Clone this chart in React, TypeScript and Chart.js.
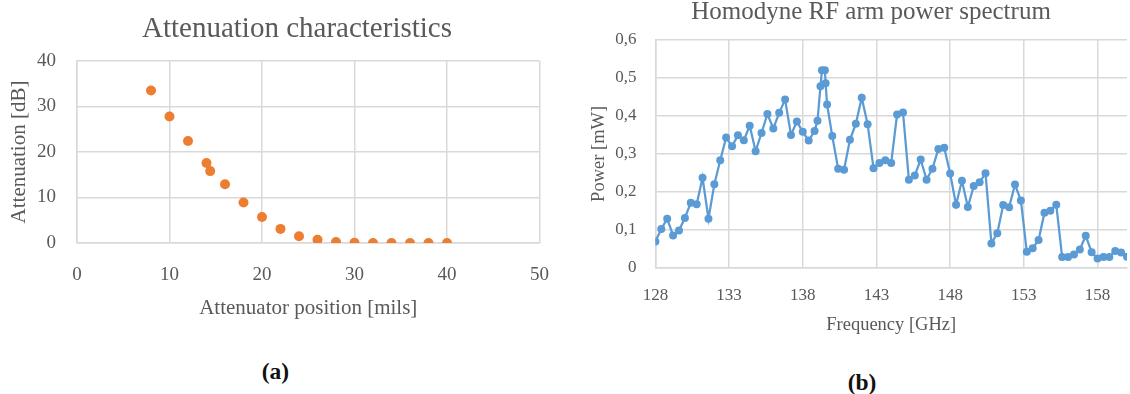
import React, { useEffect, useRef } from "react";
import { Chart, registerables } from "chart.js";

Chart.register(...registerables);

// ---- Chart (a): Attenuation characteristics ----
const attenPosition = [8, 10, 12, 14, 14.4, 16, 18, 20, 22, 24, 26, 28, 30, 32, 34, 36, 38, 40];
const attenDb = [33.5, 27.8, 22.4, 17.6, 15.8, 12.9, 8.9, 5.7, 3.1, 1.5, 0.7, 0.2, 0.05, 0, 0, 0, 0, 0];

// ---- Chart (b): Homodyne RF arm power spectrum ----
const freqGHz = [
  128.0, 128.4, 128.8, 129.2, 129.6, 130.0, 130.4, 130.8, 131.2, 131.6,
  132.0, 132.4, 132.8, 133.2, 133.6, 134.0, 134.4, 134.8, 135.2, 135.6,
  136.0, 136.4, 136.8, 137.2, 137.6, 138.0, 138.4, 138.8, 139.0, 139.2,
  139.3, 139.5, 139.55, 139.65, 140.0, 140.4, 140.8, 141.2, 141.6, 142.0,
  142.4, 142.8, 143.2, 143.6, 144.0, 144.4, 144.8, 145.2, 145.6, 146.0,
  146.4, 146.8, 147.2, 147.6, 148.0, 148.4, 148.8, 149.2, 149.6, 150.0,
  150.4, 150.8, 151.2, 151.6, 152.0, 152.4, 152.8, 153.2, 153.6, 154.0,
  154.4, 154.8, 155.2, 155.6, 156.0, 156.4, 156.8, 157.2, 157.6, 158.0,
  158.4, 158.8, 159.2, 159.6, 160.0,
];
const powerMW = [
  0.069, 0.102, 0.129, 0.085, 0.098, 0.131, 0.171, 0.167, 0.237, 0.129,
  0.220, 0.283, 0.343, 0.320, 0.349, 0.336, 0.374, 0.307, 0.355, 0.405,
  0.367, 0.408, 0.443, 0.350, 0.385, 0.358, 0.335, 0.360, 0.387, 0.478,
  0.520, 0.520, 0.486, 0.430, 0.347, 0.261, 0.258, 0.337, 0.379, 0.448,
  0.378, 0.262, 0.276, 0.283, 0.276, 0.404, 0.409, 0.232, 0.243, 0.285,
  0.232, 0.261, 0.313, 0.316, 0.248, 0.166, 0.229, 0.160, 0.215, 0.225,
  0.249, 0.064, 0.091, 0.165, 0.159, 0.219, 0.177, 0.042, 0.051, 0.073,
  0.145, 0.150, 0.166, 0.028, 0.028, 0.035, 0.048, 0.084, 0.041, 0.024,
  0.028, 0.028, 0.044, 0.040, 0.029,
];
const freqTickValues = [128, 133, 138, 143, 148, 153, 158];

const SERIF = "'Liberation Serif', 'Times New Roman', serif";
const TEXT = "#595959";
const GRID = "#D9D9D9";

function ChartCanvas(props: { config: any; width: number; height: number; style: React.CSSProperties }) {
  const ref = useRef<HTMLCanvasElement>(null);
  useEffect(() => {
    const chart = new Chart(ref.current as HTMLCanvasElement, props.config);
    return () => chart.destroy();
  }, []);
  return (
    <canvas
      ref={ref}
      width={props.width}
      height={props.height}
      style={{ position: "absolute", width: props.width, height: props.height, ...props.style }}
    />
  );
}

// An empty right-hand axis used only as spacing, so the chart title sits where it does in the figure.
function spacerAxis(width: number) {
  return {
    type: "linear",
    position: "right",
    display: true,
    ticks: { display: false },
    grid: { display: false, drawTicks: false },
    border: { display: false },
    title: { display: false },
    afterFit: (s: any) => {
      s.width = width;
    },
  };
}

const leftConfig = {
  type: "scatter",
  data: {
    datasets: [
      {
        data: attenPosition.map((x, i) => ({ x, y: attenDb[i] })),
        backgroundColor: "#ED7D31",
        borderColor: "#ED7D31",
        pointRadius: 5,
        pointBorderWidth: 0,
      },
    ],
  },
  options: {
    responsive: false,
    animation: false,
    layout: { padding: { left: 36, right: 12, top: 0, bottom: 19.4 } },
    plugins: {
      legend: { display: false },
      tooltip: { enabled: false },
      title: {
        display: true,
        text: "Attenuation characteristics",
        color: TEXT,
        font: { family: SERIF, size: 29, weight: "normal" },
        padding: { top: 11.5, bottom: 14.7 },
      },
    },
    scales: {
      x: {
        type: "linear",
        min: 0,
        max: 50,
        ticks: { stepSize: 10, padding: 21, color: TEXT, font: { family: SERIF, size: 19 } },
        grid: { color: GRID, lineWidth: 1.5, drawTicks: false },
        border: { color: GRID, width: 1.5 },
        title: {
          display: true,
          text: "Attenuator position [mils]",
          color: TEXT,
          font: { family: SERIF, size: 21 },
          padding: { top: 0, bottom: 0 },
        },
        afterFit: (s: any) => {
          s.height = 77.6;
        },
      },
      y: {
        type: "linear",
        min: 0,
        max: 40,
        ticks: { stepSize: 10, padding: 21, color: TEXT, font: { family: SERIF, size: 19 } },
        grid: { color: GRID, lineWidth: 1.5, drawTicks: false },
        border: { color: GRID, width: 1.5 },
        title: {
          display: true,
          text: "Attenuation [dB]",
          color: TEXT,
          font: { family: SERIF, size: 21 },
          padding: { top: -29.6, bottom: 0 },
        },
        afterFit: (s: any) => {
          s.width = 41;
        },
      },
      ySpace: spacerAxis(17),
    },
  },
};

const rightConfig = {
  type: "line",
  data: {
    datasets: [
      {
        data: freqGHz.map((x, i) => ({ x, y: powerMW[i] })),
        borderColor: "#5B9BD5",
        backgroundColor: "#5B9BD5",
        borderWidth: 2.25,
        pointRadius: 4,
        pointBorderWidth: 0,
        tension: 0,
      },
    ],
  },
  options: {
    responsive: false,
    animation: false,
    layout: { padding: { left: 30, right: 8, top: 0, bottom: 3.9 } },
    plugins: {
      legend: { display: false },
      tooltip: { enabled: false },
      title: {
        display: true,
        text: "Homodyne RF arm power spectrum",
        color: TEXT,
        font: { family: SERIF, size: 25, weight: "normal" },
        padding: { top: 7, bottom: 13 },
      },
    },
    scales: {
      x: {
        type: "linear",
        min: 128,
        max: 160,
        afterBuildTicks: (s: any) => {
          s.ticks = freqTickValues.map((v) => ({ value: v }));
        },
        ticks: { padding: 18, color: TEXT, font: { family: SERIF, size: 17 } },
        grid: { color: GRID, lineWidth: 1.5, drawTicks: false },
        border: { color: GRID, width: 1.5 },
        title: {
          display: true,
          text: "Frequency [GHz]",
          color: TEXT,
          font: { family: SERIF, size: 18.5 },
          padding: { top: 0, bottom: 0 },
        },
        afterFit: (s: any) => {
          s.height = 68.4;
        },
      },
      y: {
        type: "linear",
        min: 0,
        max: 0.6,
        ticks: {
          stepSize: 0.1,
          padding: 19,
          color: TEXT,
          font: { family: SERIF, size: 17 },
          callback: (v: any) => {
            const r = Math.round(Number(v) * 10) / 10;
            return r === 0 ? "0" : r.toFixed(1).replace(".", ",");
          },
        },
        grid: { color: GRID, lineWidth: 1.5, drawTicks: false },
        border: { color: GRID, width: 1.5 },
        title: {
          display: true,
          text: "Power [mW]",
          color: TEXT,
          font: { family: SERIF, size: 18.5 },
          padding: { top: -22.1, bottom: 0 },
        },
        afterFit: (s: any) => {
          s.width = 45.4;
        },
      },
      ySpace: spacerAxis(5),
    },
  },
};

const captionStyle: React.CSSProperties = {
  position: "absolute",
  transform: "translate(-50%, -50%)",
  fontFamily: "'Liberation Serif', serif",
  fontWeight: "bold",
  fontSize: 23.5,
  lineHeight: 1,
  color: "#111",
  whiteSpace: "nowrap",
};

export default function App() {
  return (
    <div
      style={{
        position: "fixed",
        left: 0,
        top: 0,
        width: 1130,
        height: 394,
        background: "#ffffff",
        overflow: "hidden",
      }}
    >
      <ChartCanvas config={leftConfig} width={570} height={340} style={{ left: 0, top: 0 }} />
      <ChartCanvas config={rightConfig} width={560} height={350} style={{ left: 580, top: -10 }} />
      <div style={{ ...captionStyle, left: 275.5, top: 371.5 }}>(a)</div>
      <div style={{ ...captionStyle, left: 862, top: 382.5 }}>(b)</div>
    </div>
  );
}
